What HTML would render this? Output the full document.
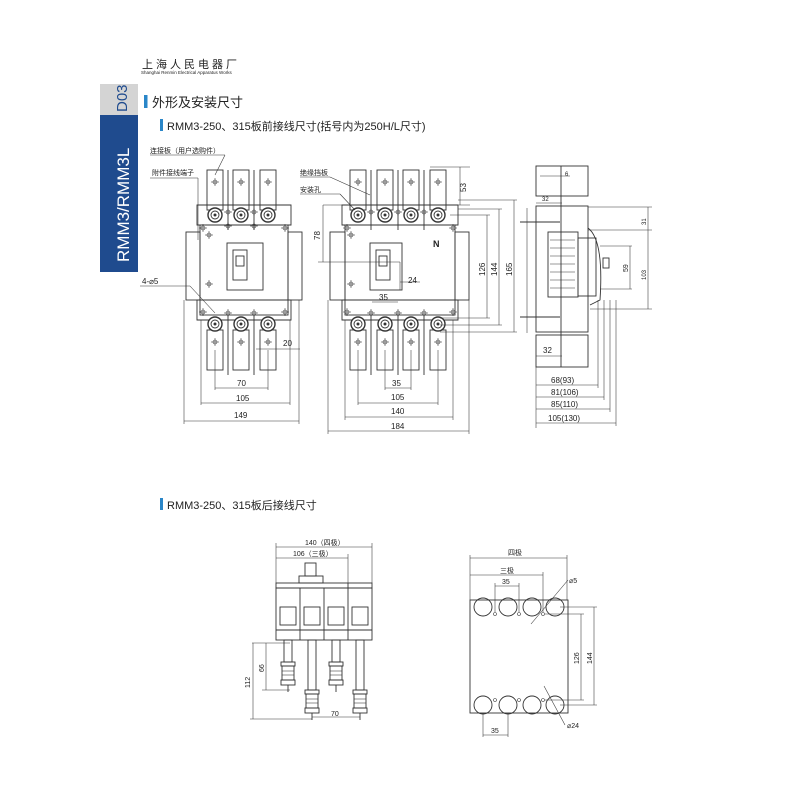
<!DOCTYPE html>
<html><head><meta charset="utf-8"><style>
body{margin:0;background:#fff}
svg{display:block}
text{font-family:"Liberation Sans","Noto Sans CJK SC",sans-serif;fill:#222}
.l{stroke:#333;stroke-width:.9;fill:none}
.t{stroke:#333;stroke-width:.55;fill:none}
.d{font-size:8px}
</style></head><body>
<svg width="800" height="800" viewBox="0 0 800 800" xmlns="http://www.w3.org/2000/svg">
<defs>
<g id="cr"><line x1="-4" y1="0" x2="4" y2="0" class="t"/><line x1="0" y1="-4" x2="0" y2="4" class="t"/><circle r="2" class="t"/></g>
<g id="term"><circle r="7" fill="#fff" stroke="#333" stroke-width="1.4"/><circle r="4" class="l"/><circle r="1.5" fill="#333"/></g>
<g id="plate"><rect x="-8" y="0" width="16" height="40" class="l" fill="#fff"/><use href="#cr" y="12"/></g>
<g id="nut"><rect x="-7" y="0" width="14" height="4" class="l"/><rect x="-6" y="4" width="12" height="14" class="l"/><line x1="-6" y1="9" x2="6" y2="9" class="t"/><line x1="-6" y1="13" x2="6" y2="13" class="t"/><rect x="-7" y="18" width="14" height="5" class="l"/><line x1="0" y1="23" x2="0" y2="30" class="l"/></g>
</defs>

<!-- header -->
<text x="142" y="68" font-size="11" letter-spacing="3">上海人民电器厂</text>
<text x="141" y="74" font-size="4.5">Shanghai Renmin Electrical Apparatus Works</text>
<rect x="100" y="84" width="38" height="31" fill="#d4d4d4"/>
<rect x="100" y="115" width="38" height="157" fill="#1f4b8e"/>
<text transform="translate(127,112) rotate(-90)" font-size="15" style="fill:#1f4b8e">D03</text>
<text transform="translate(129,262) rotate(-90)" font-size="17" style="fill:#fff">RMM3/RMM3L</text>
<rect x="144" y="95" width="3.5" height="13" fill="#2a86c8"/>
<text x="152" y="107" font-size="13">外形及安装尺寸</text>
<rect x="160" y="119" width="3" height="12" fill="#2a86c8"/>
<text x="167" y="130" font-size="11">RMM3-250、315板前接线尺寸(括号内为250H/L尺寸)</text>

<!-- LEFT 3-pole -->
<g>
<rect x="200" y="225" width="88" height="90" class="l"/>
<rect x="186" y="232" width="14" height="68" class="l"/><rect x="288" y="232" width="14" height="68" class="l"/>
<path d="M197 205 H291 V225 H197Z" class="l"/>
<path d="M197 300 H291 V320 H197Z" class="l"/>
<rect x="227" y="243" width="36" height="47" class="l"/>
<rect x="233" y="250" width="14" height="30" class="l"/><rect x="236" y="256" width="8" height="10" class="l"/>
<use href="#plate" x="215" y="170"/><use href="#plate" x="241" y="170"/><use href="#plate" x="268" y="170"/>
<use href="#plate" x="215" y="330"/><use href="#plate" x="241" y="330"/><use href="#plate" x="268" y="330"/>
<g class="l"><line x1="228" y1="170" x2="228" y2="230"/><line x1="254" y1="170" x2="254" y2="230"/><line x1="228" y1="315" x2="228" y2="375"/><line x1="254" y1="315" x2="254" y2="375"/></g>
<use href="#term" x="215" y="215"/><use href="#term" x="241" y="215"/><use href="#term" x="268" y="215"/>
<use href="#term" x="215" y="324"/><use href="#term" x="241" y="324"/><use href="#term" x="268" y="324"/>
<use href="#cr" x="228" y="212"/><use href="#cr" x="254" y="212"/><use href="#cr" x="228" y="226"/><use href="#cr" x="254" y="226"/>
<use href="#cr" x="228" y="313"/><use href="#cr" x="254" y="313"/>
<use href="#cr" x="203" y="228"/><use href="#cr" x="285" y="228"/><use href="#cr" x="203" y="312"/><use href="#cr" x="285" y="312"/>
<use href="#cr" x="209" y="284"/><use href="#cr" x="209" y="235"/>
<text x="150" y="153" font-size="7">连接板（用户选购件）</text>
<text x="152" y="175" font-size="7">附件接线端子</text>
<line x1="150" y1="155" x2="225" y2="155" class="t"/><line x1="225" y1="155" x2="215" y2="175" class="t"/>
<line x1="150" y1="178" x2="198" y2="178" class="t"/><line x1="198" y1="178" x2="198" y2="240" class="t"/>
<text x="142" y="284" font-size="8">4-⌀5</text>
<line x1="140" y1="286" x2="190" y2="286" class="t"/><line x1="190" y1="286" x2="215" y2="313" class="t"/>
<text x="283" y="346" class="d">20</text><line x1="256" y1="349" x2="300" y2="349" class="t"/>
<g class="t"><line x1="215" y1="388" x2="268" y2="388"/><line x1="201" y1="403" x2="290" y2="403"/><line x1="184" y1="421" x2="299" y2="421"/>
<line x1="215" y1="350" x2="215" y2="390"/><line x1="268" y1="350" x2="268" y2="390"/><line x1="201" y1="320" x2="201" y2="405"/><line x1="290" y1="320" x2="290" y2="405"/><line x1="184" y1="300" x2="184" y2="424"/><line x1="299" y1="300" x2="299" y2="424"/></g>
<text x="237" y="386" class="d">70</text><text x="236" y="401" class="d">105</text><text x="234" y="418" class="d">149</text>
</g>

<!-- MIDDLE 4-pole -->
<g>
<rect x="345" y="225" width="110" height="90" class="l"/>
<rect x="330" y="232" width="15" height="68" class="l"/><rect x="455" y="232" width="14" height="68" class="l"/>
<path d="M342 205 H458 V225 H342Z" class="l"/>
<path d="M342 300 H458 V320 H342Z" class="l"/>
<rect x="370" y="243" width="32" height="47" class="l"/>
<rect x="376" y="250" width="14" height="30" class="l"/><rect x="379" y="256" width="8" height="10" class="l"/>
<use href="#plate" x="358" y="170"/><use href="#plate" x="385" y="170"/><use href="#plate" x="411" y="170"/><use href="#plate" x="438" y="170"/>
<use href="#plate" x="358" y="330"/><use href="#plate" x="385" y="330"/><use href="#plate" x="411" y="330"/><use href="#plate" x="438" y="330"/>
<g class="l"><line x1="371" y1="170" x2="371" y2="230"/><line x1="398" y1="170" x2="398" y2="230"/><line x1="424" y1="170" x2="424" y2="230"/>
<line x1="371" y1="315" x2="371" y2="375"/><line x1="398" y1="315" x2="398" y2="375"/><line x1="424" y1="315" x2="424" y2="375"/></g>
<use href="#term" x="358" y="215"/><use href="#term" x="385" y="215"/><use href="#term" x="411" y="215"/><use href="#term" x="438" y="215"/>
<use href="#term" x="358" y="324"/><use href="#term" x="385" y="324"/><use href="#term" x="411" y="324"/><use href="#term" x="438" y="324"/>
<use href="#cr" x="371" y="212"/><use href="#cr" x="398" y="212"/><use href="#cr" x="424" y="212"/>
<use href="#cr" x="371" y="313"/><use href="#cr" x="398" y="313"/><use href="#cr" x="424" y="313"/>
<use href="#cr" x="347" y="228"/><use href="#cr" x="453" y="228"/><use href="#cr" x="347" y="312"/><use href="#cr" x="453" y="312"/>
<use href="#cr" x="351" y="235"/><use href="#cr" x="351" y="284"/>
<text x="433" y="247" font-size="9" font-weight="bold">N</text>
<text x="300" y="175" font-size="7">绝缘挡板</text><text x="300" y="192" font-size="7">安装孔</text>
<line x1="300" y1="177" x2="330" y2="177" class="t"/><line x1="330" y1="177" x2="370" y2="195" class="t"/>
<line x1="300" y1="194" x2="340" y2="194" class="t"/><line x1="340" y1="194" x2="355" y2="210" class="t"/>
<g class="t">
<line x1="430" y1="167" x2="470" y2="167"/><line x1="460" y1="167" x2="460" y2="205"/><line x1="440" y1="205" x2="470" y2="205"/>
<line x1="323" y1="205" x2="345" y2="205"/><line x1="323" y1="205" x2="323" y2="262"/><line x1="318" y1="262" x2="400" y2="262"/>
<line x1="400" y1="282" x2="420" y2="282"/><line x1="400" y1="262" x2="400" y2="290"/>
<line x1="372" y1="302" x2="398" y2="302"/>
<line x1="450" y1="215" x2="490" y2="215"/><line x1="487" y1="215" x2="487" y2="318"/><line x1="440" y1="318" x2="490" y2="318"/>
<line x1="458" y1="209" x2="502" y2="209"/><line x1="499" y1="209" x2="499" y2="325"/><line x1="440" y1="325" x2="502" y2="325"/>
<line x1="458" y1="200" x2="517" y2="200"/><line x1="514" y1="200" x2="514" y2="332"/><line x1="440" y1="332" x2="517" y2="332"/>
<line x1="385" y1="388" x2="411" y2="388"/><line x1="358" y1="403" x2="438" y2="403"/><line x1="345" y1="417" x2="453" y2="417"/><line x1="328" y1="431" x2="469" y2="431"/>
<line x1="385" y1="350" x2="385" y2="390"/><line x1="411" y1="350" x2="411" y2="390"/><line x1="358" y1="350" x2="358" y2="405"/><line x1="438" y1="350" x2="438" y2="405"/>
<line x1="345" y1="320" x2="345" y2="420"/><line x1="453" y1="320" x2="453" y2="420"/><line x1="328" y1="300" x2="328" y2="434"/><line x1="469" y1="300" x2="469" y2="434"/></g>
<text transform="translate(466,192) rotate(-90)" class="d">53</text>
<text transform="translate(320,240) rotate(-90)" class="d">78</text>
<text x="408" y="283" class="d">24</text><text x="379" y="300" class="d">35</text>
<text transform="translate(485,276) rotate(-90)" class="d">126</text>
<text transform="translate(497,276) rotate(-90)" class="d">144</text>
<text transform="translate(512,276) rotate(-90)" class="d">165</text>
<text x="392" y="386" class="d">35</text><text x="391" y="400" class="d">105</text><text x="391" y="414" class="d">140</text><text x="391" y="429" class="d">184</text>
</g>

<!-- SIDE view -->
<g>
<rect x="536" y="166" width="52" height="30" class="l"/>
<rect x="536" y="206" width="52" height="126" class="l"/>
<rect x="536" y="335" width="52" height="32" class="l"/>
<line x1="561" y1="166" x2="561" y2="367" class="l"/>
<rect x="548" y="232" width="30" height="65" class="l"/>
<g class="t"><line x1="550" y1="240" x2="575" y2="240"/><line x1="550" y1="248" x2="575" y2="248"/><line x1="550" y1="256" x2="575" y2="256"/><line x1="550" y1="264" x2="575" y2="264"/><line x1="550" y1="272" x2="575" y2="272"/><line x1="550" y1="280" x2="575" y2="280"/><line x1="550" y1="288" x2="575" y2="288"/></g>
<rect x="578" y="238" width="18" height="58" class="l"/>
<path d="M588 228 Q604 240 600 300 L590 305" class="l"/>
<rect x="603" y="258" width="6" height="10" class="l"/>
<line x1="520" y1="222" x2="560" y2="222" class="l"/><line x1="520" y1="317" x2="560" y2="317" class="l"/>
<g class="t"><line x1="527" y1="208" x2="527" y2="333"/>
<line x1="588" y1="207" x2="652" y2="207"/><line x1="648" y1="207" x2="648" y2="230"/><line x1="588" y1="230" x2="652" y2="230"/><line x1="648" y1="230" x2="648" y2="309"/><line x1="590" y1="309" x2="652" y2="309"/>
<line x1="600" y1="246" x2="632" y2="246"/><line x1="630" y1="246" x2="630" y2="289"/><line x1="600" y1="289" x2="632" y2="289"/>
<line x1="540" y1="176" x2="570" y2="176"/><line x1="536" y1="203" x2="562" y2="203"/><line x1="536" y1="356" x2="562" y2="356"/>
<line x1="536" y1="385" x2="598" y2="385"/><line x1="536" y1="397" x2="604" y2="397"/><line x1="536" y1="409" x2="610" y2="409"/><line x1="536" y1="423" x2="616" y2="423"/>
<line x1="536" y1="367" x2="536" y2="428"/><line x1="598" y1="300" x2="598" y2="388"/><line x1="604" y1="300" x2="604" y2="400"/><line x1="610" y1="300" x2="610" y2="412"/><line x1="616" y1="300" x2="616" y2="426"/></g>
<text x="565" y="176" font-size="6">6</text><text x="542" y="201" font-size="6">32</text>
<text x="543" y="353" class="d">32</text>
<text transform="translate(646,225) rotate(-90)" font-size="6">31</text>
<text transform="translate(628,272) rotate(-90)" font-size="7">59</text>
<text transform="translate(646,280) rotate(-90)" font-size="6">103</text>
<text x="551" y="383" class="d">68(93)</text><text x="551" y="395" class="d">81(106)</text><text x="551" y="407" class="d">85(110)</text><text x="548" y="421" class="d">105(130)</text>
</g>

<!-- second subtitle -->
<rect x="160" y="498" width="3" height="12" fill="#2a86c8"/>
<text x="167" y="509" font-size="11">RMM3-250、315板后接线尺寸</text>

<!-- bottom-left rear -->
<g>
<rect x="276" y="583" width="96" height="5" class="l"/>
<rect x="276" y="588" width="96" height="52" class="l"/>
<rect x="299" y="576" width="24" height="7" class="l"/><rect x="305" y="563" width="11" height="13" class="l"/>
<g class="l"><line x1="300" y1="588" x2="300" y2="640"/><line x1="324" y1="588" x2="324" y2="640"/><line x1="348" y1="583" x2="348" y2="640"/>
<rect x="280" y="607" width="16" height="18"/><rect x="304" y="607" width="16" height="18"/><rect x="328" y="607" width="16" height="18"/><rect x="352" y="607" width="16" height="18"/>
<line x1="276" y1="630" x2="372" y2="630"/></g>
<rect x="284" y="640" width="8" height="22" class="l"/><rect x="332" y="640" width="8" height="22" class="l"/>
<rect x="308" y="640" width="8" height="50" class="l"/><rect x="356" y="640" width="8" height="50" class="l"/>
<use href="#nut" x="288" y="662"/><use href="#nut" x="336" y="662"/>
<use href="#nut" x="312" y="690"/><use href="#nut" x="360" y="690"/>
<g class="t"><line x1="276" y1="547" x2="372" y2="547"/><line x1="276" y1="558" x2="348" y2="558"/><line x1="276" y1="543" x2="276" y2="583"/><line x1="372" y1="543" x2="372" y2="583"/><line x1="348" y1="554" x2="348" y2="583"/>
<line x1="252" y1="643" x2="290" y2="643"/><line x1="266" y1="643" x2="266" y2="690"/><line x1="262" y1="690" x2="290" y2="690"/><line x1="253" y1="643" x2="253" y2="719"/><line x1="250" y1="719" x2="312" y2="719"/>
<line x1="312" y1="717" x2="360" y2="717"/></g>
<text x="305" y="545" font-size="7">140（四极）</text><text x="293" y="556" font-size="7">106（三极）</text>
<text transform="translate(264,672) rotate(-90)" font-size="7">66</text>
<text transform="translate(250,688) rotate(-90)" font-size="7">112</text>
<text x="331" y="716" font-size="7">70</text>
</g>

<!-- bottom-right plate -->
<g>
<rect x="470" y="600" width="98" height="113" class="l"/>
<g class="l"><circle cx="483" cy="607" r="9"/><circle cx="508" cy="607" r="9"/><circle cx="532" cy="607" r="9"/><circle cx="555" cy="607" r="9"/>
<circle cx="483" cy="705" r="9"/><circle cx="508" cy="705" r="9"/><circle cx="532" cy="705" r="9"/><circle cx="555" cy="705" r="9"/></g>
<g class="t"><circle cx="495" cy="614" r="1.5"/><circle cx="519" cy="614" r="1.5"/><circle cx="543" cy="614" r="1.5"/><circle cx="495" cy="700" r="1.5"/><circle cx="519" cy="700" r="1.5"/><circle cx="543" cy="700" r="1.5"/>
<line x1="470" y1="558" x2="567" y2="558"/><line x1="470" y1="575" x2="543" y2="575"/><line x1="495" y1="586" x2="519" y2="586"/>
<line x1="470" y1="555" x2="470" y2="600"/><line x1="567" y1="555" x2="567" y2="600"/><line x1="543" y1="572" x2="543" y2="612"/><line x1="495" y1="583" x2="495" y2="612"/><line x1="519" y1="583" x2="519" y2="612"/>
<line x1="560" y1="607" x2="597" y2="607"/><line x1="594" y1="607" x2="594" y2="705"/><line x1="560" y1="705" x2="597" y2="705"/>
<line x1="545" y1="614" x2="584" y2="614"/><line x1="581" y1="614" x2="581" y2="700"/><line x1="545" y1="700" x2="584" y2="700"/>
<line x1="531" y1="624" x2="568" y2="580"/><line x1="544" y1="686" x2="565" y2="725"/>
<line x1="483" y1="714" x2="483" y2="737"/><line x1="508" y1="714" x2="508" y2="737"/><line x1="483" y1="735" x2="508" y2="735"/></g>
<text x="508" y="555" font-size="7">四极</text><text x="500" y="573" font-size="7">三极</text><text x="502" y="584" font-size="7">35</text>
<text x="569" y="583" font-size="7">⌀5</text><text x="567" y="728" font-size="7">⌀24</text>
<text transform="translate(579,664) rotate(-90)" font-size="7">126</text>
<text transform="translate(592,664) rotate(-90)" font-size="7">144</text>
<text x="491" y="733" font-size="7">35</text>
</g>
</svg>
</body></html>
